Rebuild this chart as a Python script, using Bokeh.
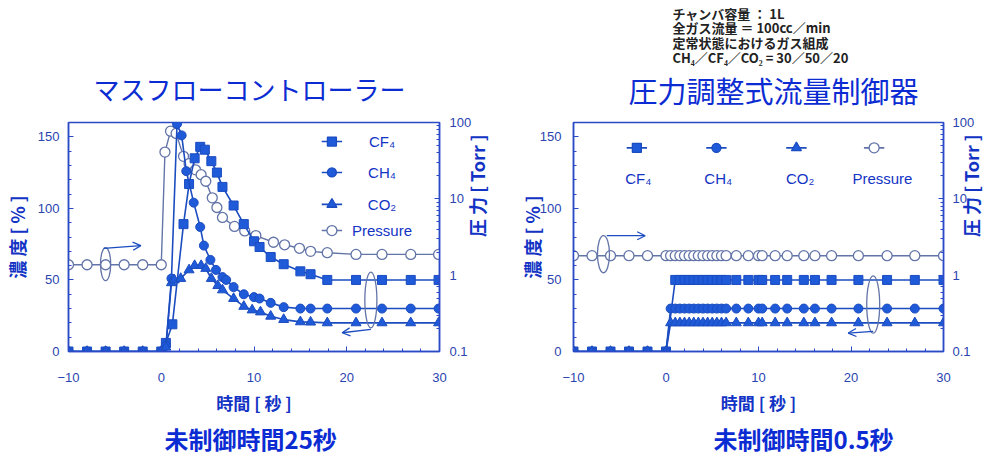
import math
from bokeh.plotting import figure
from bokeh.layouts import row
from bokeh.models import (Range1d, LogScale, LogAxis, FixedTicker, Label, Arrow, Title,
                          OpenHead, PrintfTickFormatter)
from bokeh.embed import file_html
from bokeh.resources import INLINE

# ---------------- data: left chart (mass flow controller) ----------------
l_cf4_t = [-10, -8, -6, -4, -2, 0, 0.5, 1.2, 2.4, 3.0, 3.6, 4.2, 4.7, 5.4, 6.0, 6.6,
           7.8, 8.9, 10.0, 10.6, 11.8, 13.2, 15.0, 16.1, 17.9, 21.0, 23.8, 26.9, 29.9]
l_cf4_v = [0, 0, 0, 0, 0, 0, 6, 19, 89, 117, 135, 143, 141, 133, 125, 115,
           102, 89, 77, 73, 66, 61, 56, 54, 50, 50, 50, 50, 50]

l_ch4_t = [-10, -8, -6, -4, -2, 0, 0.5, 1.1, 1.7, 2.2, 2.7, 3.5, 4.2, 4.6, 5.3, 5.9,
           6.6, 7.0, 7.8, 8.9, 10.0, 10.6, 11.8, 13.2, 15.0, 16.1, 17.9, 21.0, 23.8, 26.9, 29.9]
l_ch4_v = [0, 0, 0, 0, 0, 0, 4, 51, 159, 151, 126, 104, 87, 74, 64, 57,
           52, 50, 45, 40, 38, 37, 34, 31, 30, 30, 30, 30, 30, 30, 30]

l_co2_t = [-10, -8, -6, -4, -2, 0, 0.5, 1.1, 1.4, 2.1, 3.0, 3.6, 4.3, 4.8, 5.4, 6.1,
           6.6, 7.8, 8.9, 9.8, 10.7, 11.8, 13.2, 15.0, 16.1, 17.9, 21.0, 23.8, 26.9, 29.9]
l_co2_v = [0, 0, 0, 0, 0, 0, 3, 48, 50, 51, 57, 60, 60, 58, 51, 46,
           43, 37, 31.5, 29, 27.6, 24.6, 22.3, 20.7, 20.5, 20, 20, 20, 20, 20]

l_p_t = [-10, -8, -6, -4, -2, 0, 0.4, 1.0, 1.6, 2.4, 3.0, 3.7, 4.3, 4.8, 5.5, 6.0,
         6.6, 7.9, 9.0, 10.2, 12.1, 13.3, 14.9, 16.1, 17.9, 21.0, 23.8, 26.9, 29.9]
l_p_v = [1.37, 1.37, 1.37, 1.37, 1.37, 1.37, 41, 77, 72, 36, 29, 24, 20.7, 17, 10.3, 7.7,
         5.7, 4.35, 3.8, 3.3, 2.7, 2.5, 2.25, 2.05, 1.97, 1.87, 1.87, 1.87, 1.87]

# ---------------- data: right chart (pressure-regulating flow controller) ----------------
r_cf4_t = [-10, -8, -6, -4, -2, 0, 1.0, 1.5, 2.0, 2.5, 3.0, 3.5, 4.0, 4.5, 5.0, 5.5, 6.0, 6.5,
           7.6, 8.9, 10.0, 10.4, 11.8, 13.1, 14.9, 16.1, 17.9, 20.8, 23.9, 26.9, 30.0]
r_cf4_v = [0, 0, 0, 0, 0, 0, 50, 50, 50, 50, 50, 50, 50, 50, 50, 50, 50, 50,
           50, 50, 50, 50, 50, 50, 50, 50, 50, 50, 50, 50, 50]

r_gas_t = [-10, -8, -6, -4, -2, 0, 0.5, 1.0, 1.5, 2.0, 2.5, 3.0, 3.5, 4.0, 4.5, 5.0, 5.5, 6.0, 6.5,
           7.6, 8.9, 10.0, 10.4, 11.8, 13.1, 14.9, 16.1, 17.9, 20.8, 23.9, 26.9, 30.0]
r_ch4_v = [0, 0, 0, 0, 0, 0, 30, 30, 30, 30, 30, 30, 30, 30, 30, 30, 30, 30, 30,
           30, 30, 30, 30, 30, 30, 30, 30, 30, 30, 30, 30, 30]
r_co2_v = [0, 0, 0, 0, 0, 0, 20, 20, 20, 20, 20, 20, 20, 20, 20, 20, 20, 20, 20,
           20, 20, 20, 20, 20, 20, 20, 20, 20, 20, 20, 20, 20]

r_p_t = [-10, -8, -6, -4, -2, 0, 0.5, 1.0, 1.5, 2.0, 2.5, 3.0, 3.5, 4.0, 4.5, 5.0, 5.5, 6.0, 6.5,
         7.6, 8.9, 10.0, 10.4, 11.8, 13.1, 14.9, 16.1, 17.9, 20.8, 23.9, 26.9, 30.0]
r_p_v = [1.8, 1.8, 1.8, 1.8, 1.8, 1.8, 1.8, 1.8, 1.8, 1.8, 1.8, 1.8, 1.8, 1.8, 1.8, 1.8, 1.8, 1.8, 1.8,
         1.8, 1.8, 1.8, 1.8, 1.8, 1.8, 1.8, 1.8, 1.8, 1.8, 1.8, 1.8, 1.8]

# ---------------- ticks & texts ----------------
x_major = [-10, 0, 10, 20, 30]
x_minor = [-8, -6, -4, -2, 2, 4, 6, 8, 12, 14, 16, 18, 22, 24, 26, 28]
y_major = [0, 50, 100, 150]
y_minor = [10, 20, 30, 40, 60, 70, 80, 90, 110, 120, 130, 140]
p_major = [0.1, 1, 10, 100]
p_minor = [0.2, 0.3, 0.4, 0.5, 0.6, 0.7, 0.8, 0.9, 2, 3, 4, 5, 6, 7, 8, 9,
           20, 30, 40, 50, 60, 70, 80, 90]

legend_names = ["CF₄", "CH₄", "CO₂", "Pressure"]
titles = ["マスフローコントローラー", "圧力調整式流量制御器"]
captions = ["未制御時間25秒", "未制御時間0.5秒"]
x_label = "時間 [ 秒 ]"
y_label = "濃 度 [ % ]"
p_label = "圧 力 [ Torr ]"
notes = ["チャンバ容量 ： 1L", "全ガス流量 ＝ 100cc／min",
         "定常状態におけるガス組成", "CH₄／CF₄／CO₂ = 30／50／20"]

TITLE = "#0b2bd3"
LABEL = "#1233c4"
TICK = "#2a44b0"
AXIS = "#2b4bc6"
DATA = "#1f5ad8"
DATA_EDGE = "#1b4cc0"
PRES = "#6274a8"
JP = "Noto Sans CJK JP"
LAT = "Liberation Sans"
MARKERS = ["square", "circle", "triangle", "circle"]


def style_axis(ax):
    ax.axis_line_color = AXIS
    ax.axis_line_width = 1.5
    ax.major_tick_in = 5
    ax.major_tick_out = 0
    ax.minor_tick_in = 3
    ax.minor_tick_out = 0
    ax.major_tick_line_color = AXIS
    ax.minor_tick_line_color = AXIS
    ax.major_label_text_font = LAT
    ax.major_label_text_font_size = "13px"
    ax.major_label_text_color = TICK
    ax.axis_label_text_font = JP
    ax.axis_label_text_font_style = "bold"
    ax.axis_label_text_color = LABEL
    ax.axis_label_text_font_size = "18px"


def make_fig(width, lb, rb, ls, lls, rs, rls):
    p = figure(width=width, height=456, x_range=Range1d(-10, 30), y_range=Range1d(0, 160),
               output_backend="svg", toolbar_location=None, title=None,
               min_border_left=lb, min_border_right=rb, min_border_top=122, min_border_bottom=105)
    p.extra_y_ranges = {"p": Range1d(0.1, 100)}
    p.extra_y_scales = {"p": LogScale()}
    p.grid.visible = False
    p.outline_line_color = AXIS
    p.outline_line_width = 1.5
    p.background_fill_color = "white"
    p.border_fill_color = "white"

    xa = p.xaxis[0]
    style_axis(xa)
    xa.ticker = FixedTicker(ticks=x_major, minor_ticks=x_minor)
    xa.major_label_standoff = 21
    xa.axis_label = x_label
    xa.axis_label_text_font_size = "17px"
    xa.axis_label_standoff = 5

    ya = p.yaxis[0]
    style_axis(ya)
    ya.ticker = FixedTicker(ticks=y_major, minor_ticks=y_minor)
    ya.major_label_standoff = ls
    ya.axis_label = y_label
    ya.axis_label_standoff = lls

    ra = LogAxis(y_range_name="p")
    style_axis(ra)
    ra.ticker = FixedTicker(ticks=p_major, minor_ticks=p_minor)
    ra.formatter = PrintfTickFormatter(format="%g")
    ra.major_label_standoff = rs
    ra.axis_label = p_label
    ra.axis_label_standoff = rls
    ra.axis_label_orientation = math.pi / 2
    p.add_layout(ra, "right")
    return p


def draw_series(p, cf_t, cf_v, ch_t, ch_v, co_t, co_v, pr_t, pr_v):
    p.line(pr_t, pr_v, y_range_name="p", line_color=PRES, line_width=1.4)
    p.scatter(pr_t, pr_v, y_range_name="p", marker="circle", size=10,
              fill_color="white", line_color=PRES, line_width=1.3)
    for t, v, m, s in ((cf_t, cf_v, "square", 9), (ch_t, ch_v, "circle", 9),
                       (co_t, co_v, "triangle", 10)):
        p.line(t, v, line_color=DATA_EDGE, line_width=1.6)
        p.scatter(t, v, marker=m, size=s, fill_color=DATA, line_color=DATA_EDGE)


def text(p, x, y, s, size, color, style="normal", font=JP, align="center"):
    p.add_layout(Label(x=x, y=y, text=s, text_align=align, text_baseline="middle",
                       text_font=font, text_font_size=size, text_color=color,
                       text_font_style=style))


def key(p, gx, gy, tx, ty, i):
    col = PRES if i == 3 else DATA_EDGE
    p.line([gx - 1.1, gx + 1.1], [gy, gy], line_color=col, line_width=1.6)
    p.scatter([gx], [gy], marker=MARKERS[i], size=10 if i >= 2 else 9,
              fill_color="white" if i == 3 else DATA, line_color=col, line_width=1.3)
    text(p, tx, ty, legend_names[i], "15px", LABEL, font=LAT)


def arrow(p, x0, y0, x1, y1):
    p.add_layout(Arrow(x_start=x0, y_start=y0, x_end=x1, y_end=y1, line_color=DATA_EDGE,
                       line_width=1.3, end=OpenHead(size=8, line_color=DATA_EDGE, line_width=1.3)))


def title(p, s, size, color, place, standoff, style="normal", align="left", offset=0, lh=1.2):
    p.add_layout(Title(text=s, align=align, offset=offset, standoff=standoff,
                       text_font=JP, text_font_size=size, text_color=color,
                       text_font_style=style, text_line_height=lh), place)


# ---------------- left figure ----------------
pl = make_fig(506, 67, 67, 9, 5, 10, 3)
draw_series(pl, l_cf4_t, l_cf4_v, l_ch4_t, l_ch4_v, l_co2_t, l_co2_v, l_p_t, l_p_v)
key_y = [146.7, 125.1, 102.8, 84.5]
for i in range(4):
    key(pl, 18.4, key_y[i], 23.8, key_y[i], i)
pl.ellipse(x=[-6.0, 22.6], y=[61, 36], width=[1.1, 1.3], height=[23, 39],
           fill_color=None, line_color=PRES, line_width=1.3)
arrow(pl, -6.2, 72, -2.2, 74)
arrow(pl, 22.6, 15.4, 19.5, 13.1)
title(pl, titles[0], "26px", TITLE, "above", 31, offset=25)
title(pl, captions[0], "24px", TITLE, "below", 2, style="bold", offset=96)

# ---------------- right figure ----------------
pr = make_fig(494, 67, 57, 12, -8, 9, -6)
draw_series(pr, r_cf4_t, r_cf4_v, r_gas_t, r_ch4_v, r_gas_t, r_co2_v, r_p_t, r_p_v)
leg_x = [-3.15, 5.45, 14.1, 22.5]
leg_tx = [-3.0, 5.65, 14.5, 23.4]
for i in range(4):
    key(pr, leg_x[i], 142.3, leg_tx[i], 121, i)
pr.ellipse(x=[-6.76, 22.4], y=[68, 32.8], width=[1.3, 1.4], height=[26, 40],
           fill_color=None, line_color=PRES, line_width=1.3)
arrow(pr, -6.4, 80.9, -2.25, 80.9)
arrow(pr, 22.4, 14.0, 19.7, 12.9)
title(pr, titles[1], "29px", TITLE, "above", 23, offset=55)
title(pr, "\n".join(notes), "13px", "#222222", "above", -23, style="bold",
      offset=99, lh=0.78)
title(pr, captions[1], "24px", TITLE, "below", 2, style="bold", offset=140)

layout = row(pl, pr)
open("out.html", "w").write(file_html(layout, INLINE))
